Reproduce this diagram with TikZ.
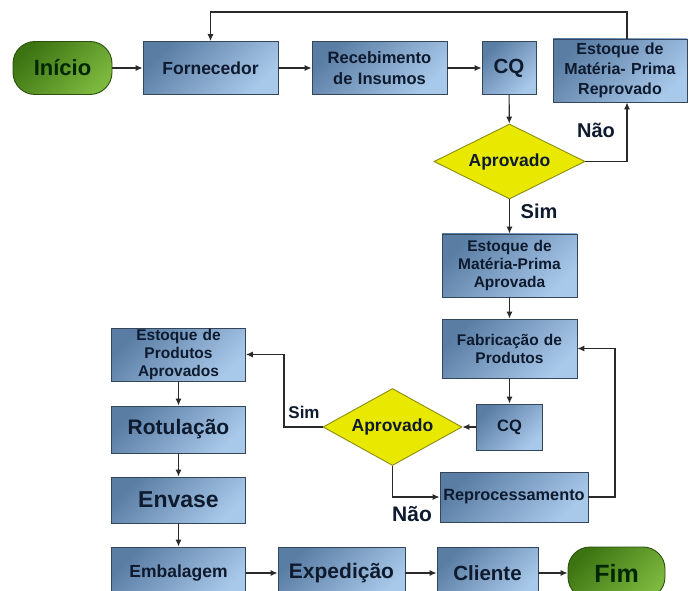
\documentclass[tikz,border=0pt]{standalone}
\usepackage{fontspec}
\setmainfont{Liberation Sans}
\usetikzlibrary{arrows.meta,shapes.geometric}
\definecolor{boxdark}{HTML}{5A7DA4}
\definecolor{boxlight}{HTML}{A9C9EA}
\definecolor{boxline}{HTML}{34465C}
\definecolor{txt}{HTML}{0E1A2E}
\definecolor{gdark}{HTML}{3C7412}
\definecolor{glight}{HTML}{7CB83E}
\definecolor{gline}{HTML}{2A520C}
\definecolor{ydia}{HTML}{E8E800}
\definecolor{yline}{HTML}{8C8C10}
\definecolor{lnk}{HTML}{2A2A2A}
\newcommand{\fsz}[1]{\bfseries\fontsize{#1}{#1}\selectfont}
\newcommand{\fsl}[2]{\bfseries\fontsize{#1}{#2}\selectfont}
\tikzset{
  blk/.style={draw=boxline, line width=0.9pt, top color=boxdark, bottom color=boxlight, shading angle=45,
    inner sep=0pt, align=center, text=txt},
  term/.style={draw=gline, line width=0.9pt, top color=gdark, bottom color=glight, shading angle=45,
    rounded corners=22pt, inner sep=0pt, text=black!85!green},
  dec/.style={diamond, aspect=2, draw=yline, line width=0.9pt, fill=ydia, inner sep=0pt, text=txt},
  arr/.style={draw=lnk, line width=1.1pt, -{Latex[length=7pt,width=6pt]}},
  lbl/.style={text=txt, inner sep=0pt}
}
\begin{document}
\begin{tikzpicture}[x=1pt,y=-1pt]
\useasboundingbox[fill=white] (0,0) rectangle (689,591);
% top row
\node[term, minimum width=99pt, minimum height=53pt, font=\fsz{22}] (inicio) at (62.5,68) {Início};
\node[blk, minimum width=135pt, minimum height=53pt, font=\fsz{17.5}] (forn) at (210.5,68) {Fornecedor};
\node[blk, minimum width=135pt, minimum height=53pt, font=\fsl{16.5}{21}, text width=135pt] (receb) at (379.5,68) {Recebimento\\de Insumos};
\node[blk, minimum width=54pt, minimum height=53pt, font=\fsz{20.5}] (cq1) at (509,68) {CQ};
\node[blk, minimum width=134pt, minimum height=63pt, text width=134pt, font=\fsl{16}{20}] (reprov) at (620,70.5) {Estoque de\\Matéria- Prima\\Reprovado};
\node[dec, minimum width=151pt, minimum height=75pt, font=\fsz{17.5}] (dec1) at (509.5,161.5) {Aprovado};
% middle column
\node[blk, minimum width=135pt, minimum height=63pt, text width=135pt, font=\fsl{15.5}{18}] (estap) at (509.5,265.5) {Estoque de\\Matéria-Prima\\Aprovada};
\node[blk, minimum width=135pt, minimum height=59pt, text width=135pt, font=\fsl{15.5}{18}] (fab) at (509.5,348.5) {Fabricação de\\Produtos};
\node[blk, minimum width=66pt, minimum height=46pt, font=\fsz{16.5}] (cq2) at (509.5,427) {CQ};
\node[dec, minimum width=139pt, minimum height=77pt, font=\fsz{17.5}] (dec2) at (392.5,427) {\raisebox{4pt}{Aprovado}};
\node[blk, minimum width=148pt, minimum height=50pt, font=\fsz{16.3}] (reproc) at (514,497) {Reprocessamento};
% left column
\node[blk, minimum width=134pt, minimum height=53pt, text width=134pt, font=\fsl{15.5}{18}] (estprod) at (178.5,354.5) {Estoque de\\Produtos\\Aprovados};
\node[blk, minimum width=134pt, minimum height=47pt, font=\fsz{21}] (rot) at (178.5,429.5) {Rotulação};
\node[blk, minimum width=134pt, minimum height=46pt, font=\fsz{23}] (env) at (178.5,500) {Envase};
\node[blk, minimum width=134pt, minimum height=52pt, font=\fsz{17.5}] (emb) at (178.5,573) {Embalagem};
% bottom row
\node[blk, minimum width=127pt, minimum height=52pt, font=\fsz{21}] (exp) at (341.5,573) {Expedição};
\node[blk, minimum width=101pt, minimum height=52pt, font=\fsz{20.5}] (cli) at (487.5,573) {Cliente};
\node[term, minimum width=97pt, minimum height=52pt, font=\fsz{25}] (fim) at (616.5,573) {Fim};
% helper coordinates
\coordinate (topy) at (0,12);
\coordinate (rx) at (627,0);
\coordinate (sx) at (284,0);
\coordinate (fx) at (615,0);
% connectors
\draw[arr] (inicio) -- (forn);
\draw[arr] (forn) -- (receb);
\draw[arr] (receb) -- (cq1);
\draw[arr] (cq1) -- (dec1);
\draw[arr] (rx |- reprov.north) -- (rx |- topy) -| (forn.north);
\draw[arr] (dec1.east) -| (rx |- reprov.south);
\draw[arr] (dec1) -- (estap);
\draw[arr] (estap) -- (fab);
\draw[arr] (fab) -- (cq2);
\draw[arr] (cq2) -- (dec2);
\draw[arr] (dec2.west) -- (sx |- dec2.west) |- (estprod.east);
\draw[arr] (dec2.south) |- (reproc.west);
\draw[arr] (reproc.east) -- (fx |- reproc.east) |- (fab.east);
\draw[arr] (estprod) -- (rot);
\draw[arr] (rot) -- (env);
\draw[arr] (env) -- (emb);
\draw[arr] (emb) -- (exp);
\draw[arr] (exp) -- (cli);
\draw[arr] (cli) -- (fim);
% labels
\node[lbl, font=\fsz{20}] (nao1) at (596,130) {Não};
\node[lbl, font=\fsz{20}] (sim1) at (539,211) {Sim};
\node[lbl, font=\fsz{17}] (sim2) at (304,412) {Sim};
\node[lbl, font=\fsz{21}] (nao2) at (412,514) {Não};
\end{tikzpicture}
\end{document}
